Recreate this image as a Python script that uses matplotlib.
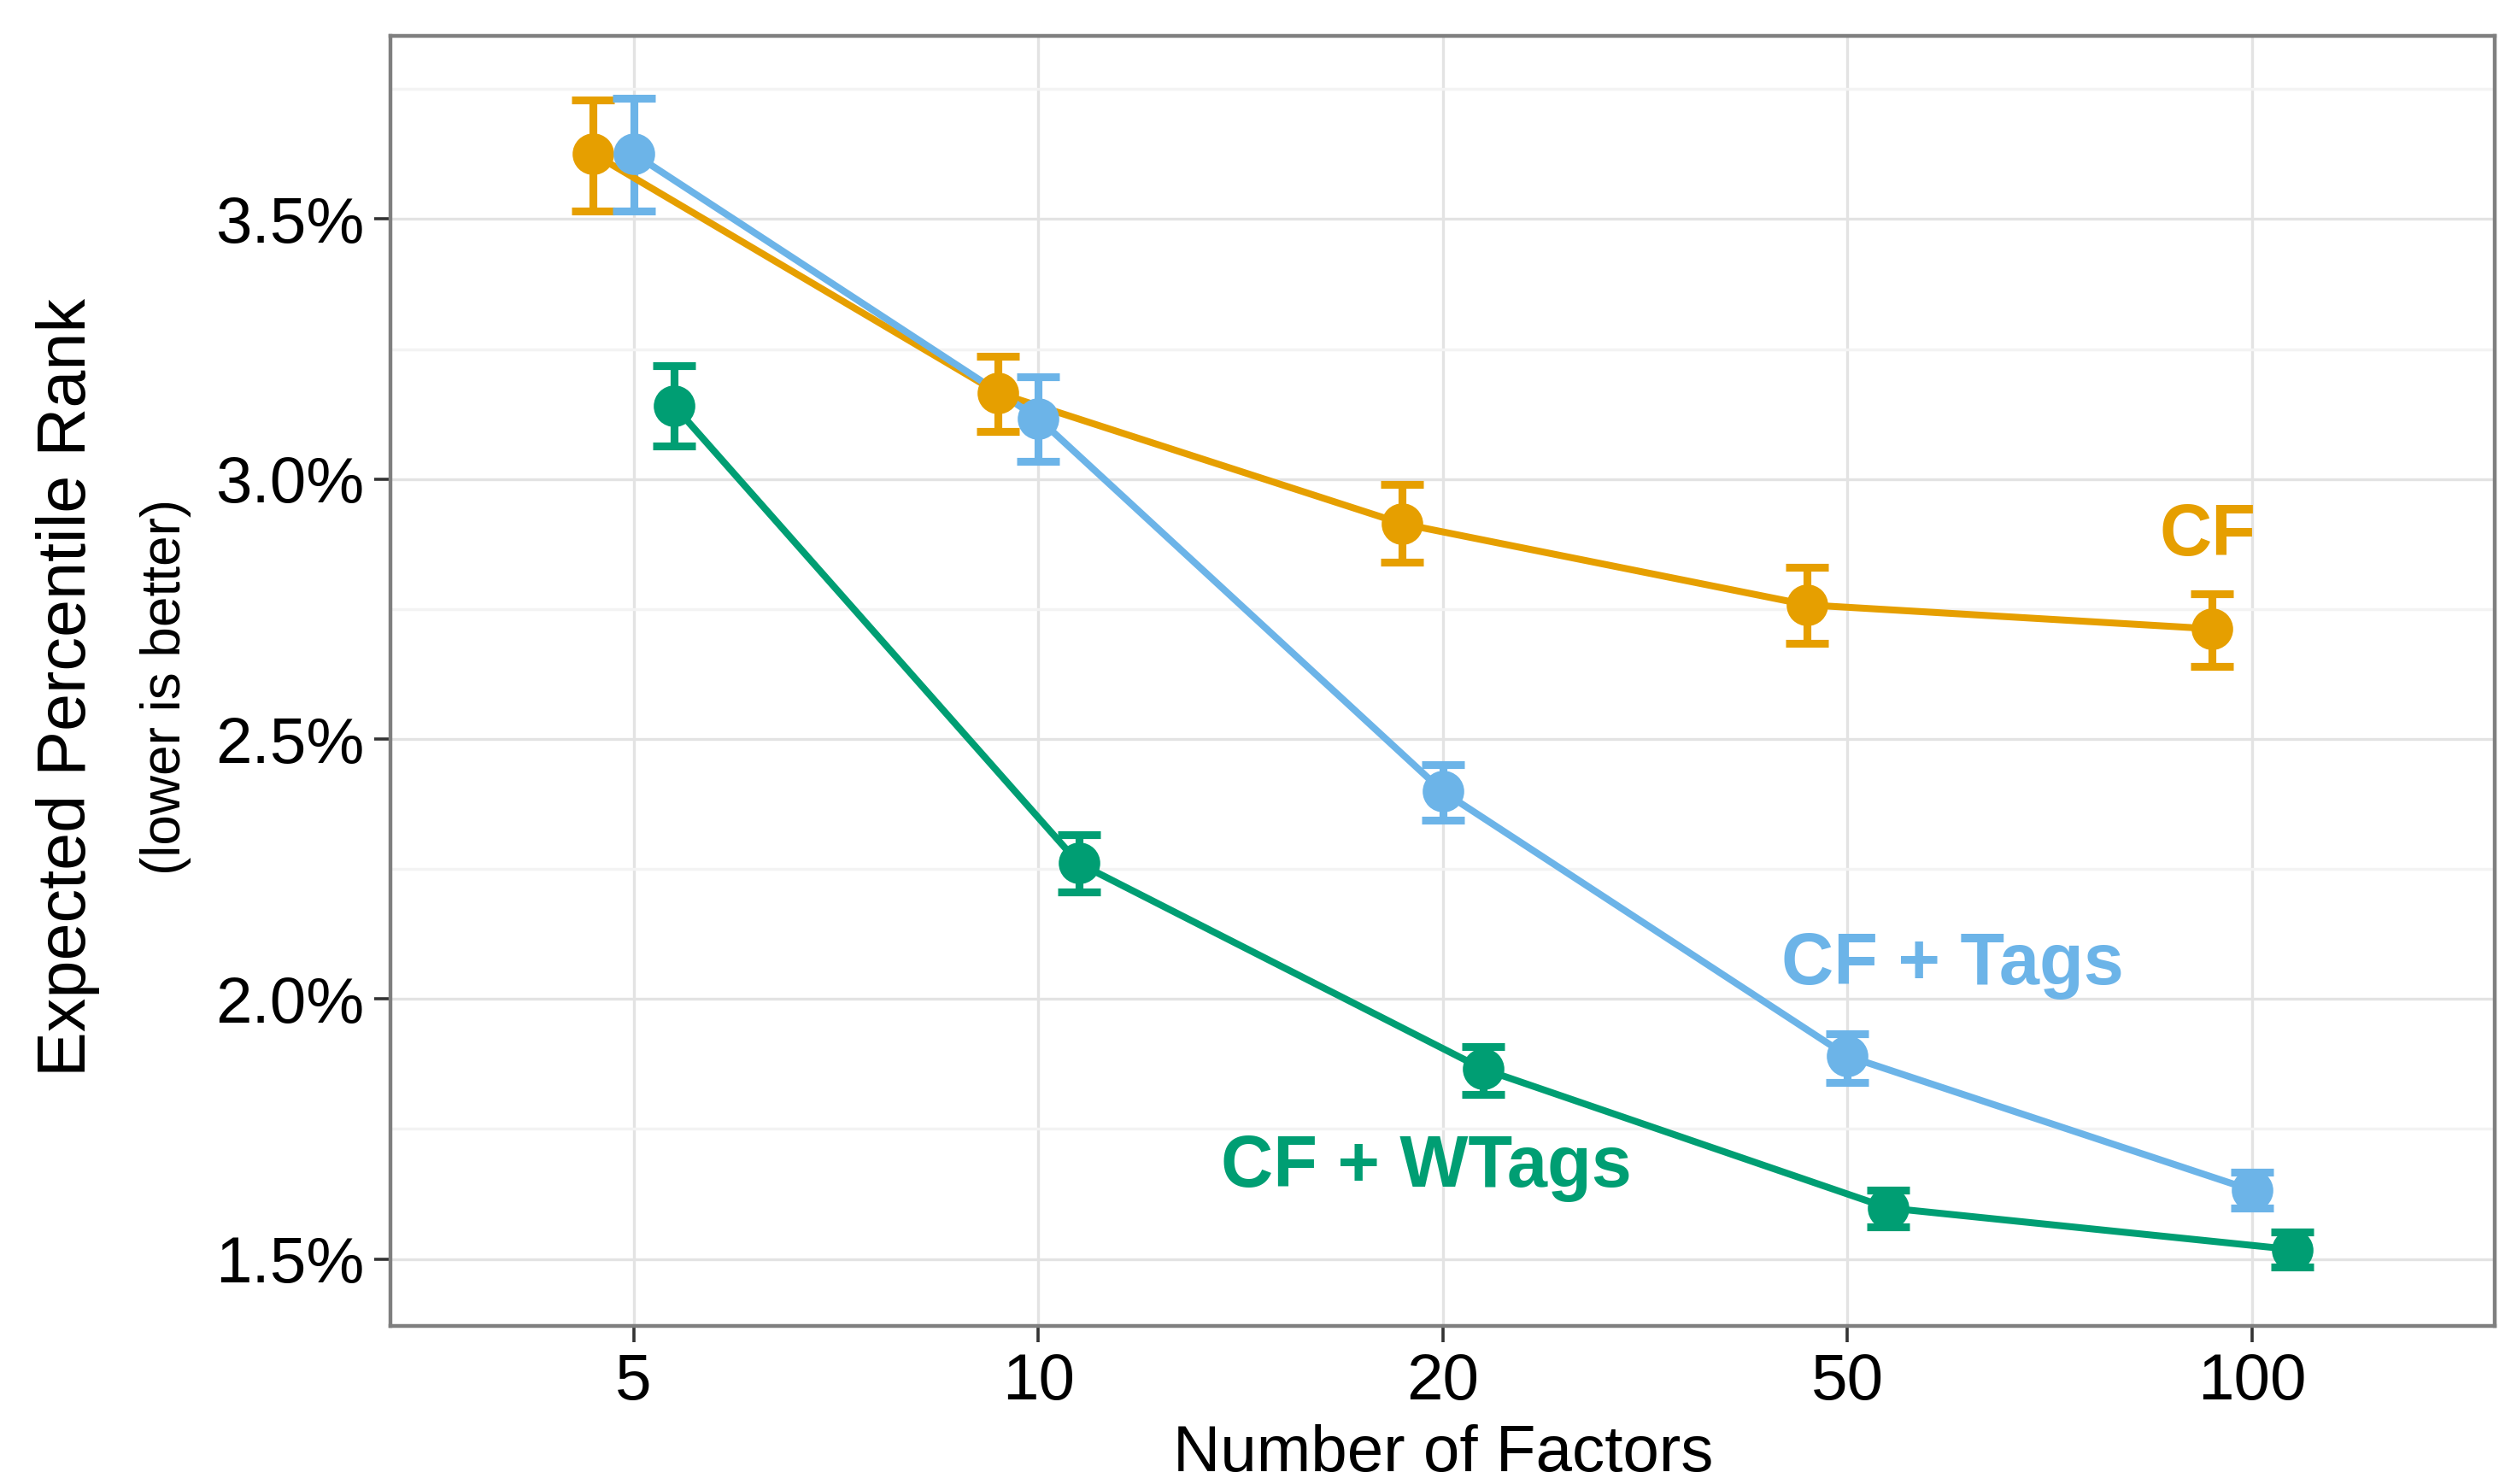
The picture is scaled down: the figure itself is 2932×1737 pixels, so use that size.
import numpy as np
import matplotlib
matplotlib.use("Agg")
import matplotlib.pyplot as plt
from matplotlib.ticker import FixedLocator

plt.rcParams['font.family'] = ['Liberation Sans', 'DejaVu Sans']

factors = ["5", "10", "20", "50", "100"]
series = ["CF", "CF + Tags", "CF + WTags"]

cf_mean = [3.626, 3.166, 2.914, 2.758, 2.712]
cf_lo = [3.515, 3.092, 2.840, 2.684, 2.640]
cf_hi = [3.730, 3.236, 2.990, 2.830, 2.780]

tags_mean = [3.626, 3.117, 2.399, 1.890, 1.632]
tags_lo = [3.515, 3.034, 2.344, 1.840, 1.598]
tags_hi = [3.733, 3.196, 2.451, 1.933, 1.666]

wtags_mean = [3.141, 2.261, 1.865, 1.598, 1.518]
wtags_lo = [3.064, 2.206, 1.816, 1.561, 1.485]
wtags_hi = [3.218, 2.316, 1.908, 1.632, 1.552]

colors = {"CF": "#E69F00", "CF + Tags": "#6CB4E8", "CF + WTags": "#009E73"}
dodge = {"CF": -0.1, "CF + Tags": 0.0, "CF + WTags": 0.1}
label_pos = {"CF": (4.89, 2.89), "CF + Tags": (4.26, 2.065), "CF + WTags": (2.96, 1.675)}

data = {
    "CF": (cf_mean, cf_lo, cf_hi),
    "CF + Tags": (tags_mean, tags_lo, tags_hi),
    "CF + WTags": (wtags_mean, wtags_lo, wtags_hi),
}

fig = plt.figure(figsize=(14.66, 8.685), dpi=200)
ax = fig.add_axes([0.156, 0.1065, 0.84, 0.8695])

x = np.arange(1, len(factors) + 1)
for name in series:
    mean, lo, hi = (np.array(v) for v in data[name])
    xs = x + dodge[name]
    c = colors[name]
    ax.errorbar(xs, mean, yerr=[mean - lo, hi - mean], fmt='none', ecolor=c,
                elinewidth=3.3, capsize=9, capthick=3.3, zorder=3)
    ax.plot(xs, mean, color=c, lw=2.9, zorder=4)
    ax.plot(xs, mean, 'o', color=c, ms=16.5, mec=c, zorder=5)
    lx, ly = label_pos[name]
    ax.text(lx, ly, name, color=c, fontsize=30.5, fontweight='bold',
            ha='center', va='center', zorder=6)

ax.set_xlim(0.4, 5.6)
ax.set_ylim(1.371, 3.853)
ax.set_xticks(x)
ax.set_xticklabels(factors)
yt = [1.5, 2.0, 2.5, 3.0, 3.5]
ax.set_yticks(yt)
ax.set_yticklabels(["%.1f%%" % v for v in yt])
ax.yaxis.set_minor_locator(FixedLocator([1.75, 2.25, 2.75, 3.25, 3.75]))

ax.grid(True, which='major', color='#E3E3E3', lw=1.2, zorder=0)
ax.grid(True, which='minor', axis='y', color='#F3F3F3', lw=1.2, zorder=0)
ax.set_axisbelow(True)
ax.tick_params(which='major', length=7, width=1.3, color='#333333',
               labelsize=27.5, labelcolor='black', pad=4)
ax.tick_params(which='minor', length=0)
for s in ax.spines.values():
    s.set_color('#7F7F7F')
    s.set_linewidth(1.6)

ax.set_xlabel("Number of Factors", fontsize=27.5, labelpad=5)
fig.text(0.027, 0.537, "Expected Percentile Rank", rotation=90, fontsize=28.5,
         ha='center', va='center')
fig.text(0.066, 0.537, "(lower is better)", rotation=90, fontsize=23,
         ha='center', va='center')

fig.savefig("out.png", dpi=200)
